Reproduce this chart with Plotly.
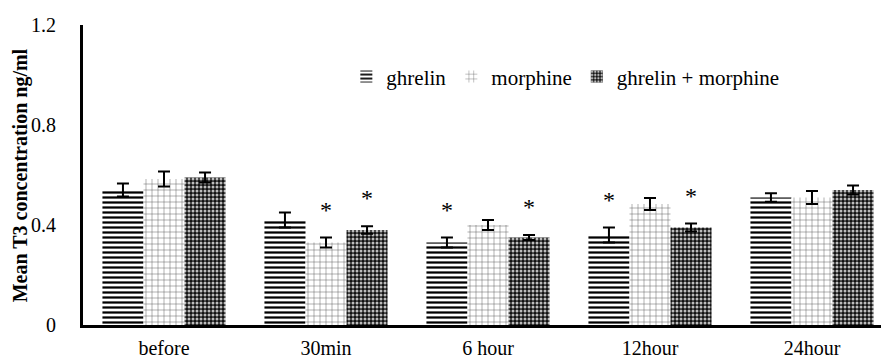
import plotly.graph_objects as go

categories = ["before", "30min", "6 hour", "12hour", "24hour"]
series_names = ["ghrelin", "morphine", "ghrelin + morphine"]
ghrelin = [0.54, 0.42, 0.33, 0.36, 0.51]
ghrelin_err = [0.026, 0.03, 0.02, 0.03, 0.017]
morphine = [0.584, 0.33, 0.40, 0.484, 0.51]
morphine_err = [0.03, 0.02, 0.02, 0.024, 0.026]
combo = [0.59, 0.38, 0.35, 0.39, 0.54]
combo_err = [0.02, 0.015, 0.01, 0.016, 0.018]
# significance marks: (category index, series index)
stars = [(1, 1), (1, 2), (2, 0), (2, 2), (3, 0), (3, 2)]
ytick_vals = [0, 0.4, 0.8, 1.2]
ytick_text = ["0", "0.4", "0.8", "1.2"]
y_title = "Mean T3 concentration ng/ml"

FONT = "Liberation Serif"
values = [ghrelin, morphine, combo]
errors = [ghrelin_err, morphine_err, combo_err]
patterns = [
    dict(shape="-", fgcolor="#000000", bgcolor="#ffffff", size=5, solidity=0.45, fillmode="replace"),
    dict(shape="+", fgcolor="#555555", bgcolor="#ffffff", size=6, solidity=0.15, fillmode="replace"),
    dict(shape=".", fgcolor="#bdbdbd", bgcolor="#111111", size=4, solidity=0.45, fillmode="replace"),
]

fig = go.Figure()
for name, v, e, p in zip(series_names, values, errors, patterns):
    fig.add_trace(go.Bar(
        x=categories, y=v, name=name,
        marker=dict(color="#ffffff", pattern=p, line=dict(width=0)),
        error_y=dict(type="data", array=e, color="#000000", thickness=2, width=6),
    ))

bargap = 0.24
bw = (1 - bargap) / 3
for ci, si in stars:
    top = values[si][ci] + errors[si][ci]
    fig.add_annotation(
        x=ci + (si - 1) * bw, y=top, xref="x", yref="y",
        text="*", showarrow=False, yanchor="bottom", yshift=13,
        font=dict(family=FONT, size=24, color="#000000"),
    )

fig.add_annotation(
    x=-0.0785, y=0.5, xref="paper", yref="paper",
    text="<b>" + y_title + "</b>", textangle=-90, showarrow=False,
    xanchor="center", yanchor="middle",
    font=dict(family=FONT, size=20, color="#000000"),
)

fig.update_layout(
    width=881, height=360,
    margin=dict(l=83, r=0, t=25, b=35),
    paper_bgcolor="#ffffff", plot_bgcolor="#ffffff",
    barmode="group", bargap=bargap, bargroupgap=0,
    font=dict(family=FONT, size=20, color="#000000"),
    showlegend=True,
    legend=dict(
        orientation="h", x=0.33, y=0.827, xanchor="left", yanchor="middle",
        font=dict(family=FONT, size=21, color="#000000"),
        bgcolor="rgba(0,0,0,0)",
    ),
    xaxis=dict(
        type="category", range=[-0.5, 4.426],
        showline=True, linecolor="#000000", linewidth=3,
        showgrid=False, ticks="", ticklabelstandoff=3,
        tickfont=dict(family=FONT, size=20, color="#000000"),
        fixedrange=True, automargin=False,
    ),
    yaxis=dict(
        range=[0, 1.2], tickvals=ytick_vals, ticktext=ytick_text,
        showline=True, linecolor="#000000", linewidth=3,
        showgrid=False, zeroline=False, ticks="", ticklabelstandoff=20,
        tickfont=dict(family=FONT, size=20, color="#000000"),
        fixedrange=True, automargin=False,
    ),
)

fig.write_html(
    "out.html",
    config={"displayModeBar": False},
    post_script="document.body.style.margin='0';document.body.style.padding='0';",
)
